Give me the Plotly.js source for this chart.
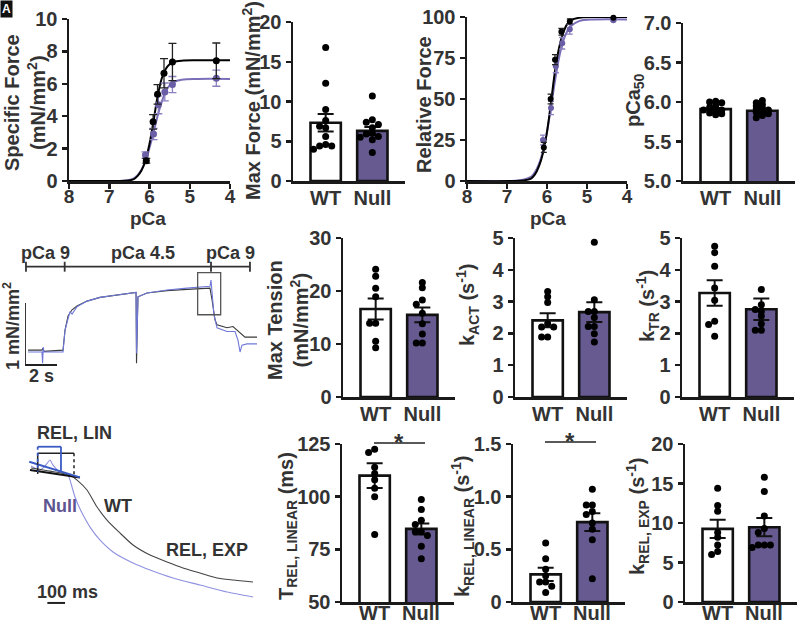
<!DOCTYPE html>
<html><head><meta charset="utf-8">
<script src="https://cdn.plot.ly/plotly-3.0.1.min.js"></script>
<style>html,body{margin:0;padding:0;background:#fff}#chart{width:799px;height:625px}</style>
</head><body><div id="chart"></div>
<script>
// ================= DATA =================
const groups = ['WT', 'Null'];

// Panel A: specific force vs pCa
const pCaWT = [6.08, 5.91, 5.8, 5.64, 5.43, 4.34];
const forceWT = [1.25, 3.65, 5.35, 6.65, 7.35, 7.42];
const forceWTsem = [0.15, 0.45, 0.6, 0.9, 1.15, 1.1];
const pCaNull = [6.1, 5.9, 5.78, 5.62, 5.43, 4.34];
const forceNull = [1.6, 2.9, 4.7, 5.5, 5.95, 6.35];
const forceNullSem = [0.2, 0.35, 0.55, 0.55, 0.5, 0.5];
const fitPCa = [8, 6.8, 6.6, 6.4, 6.3, 6.2, 6.1, 6.0, 5.9, 5.8, 5.7, 5.6, 5.5, 5.4, 5.2, 4.8, 4.0];
const fitForceWT = [0, 0, 0.01, 0.1, 0.3, 0.65, 1.25, 2.3, 3.7, 5.2, 6.3, 6.9, 7.2, 7.35, 7.43, 7.45, 7.45];
const fitForceNull = [0, 0, 0.03, 0.15, 0.35, 0.7, 1.25, 2.05, 3.0, 4.0, 4.85, 5.5, 5.9, 6.1, 6.25, 6.3, 6.3];

// Panel C: relative force vs pCa
const relWT = [20.5, 50, 74, 91, 97.3, 99.6];
const relWTsem = [3, 3, 3, 2, 1.5, 0.3];
const relNull = [25, 44.5, 70, 84, 92.5, 98];
const relNullSem = [3, 4, 4, 3.5, 3, 0.5];
const fitRelWT = [0, 0, 0.3, 1.5, 4, 9, 17, 30, 48, 67, 81, 90, 95.5, 98, 99.5, 100, 100];
const fitRelNull = [0, 0.2, 0.8, 2.5, 5.5, 10.5, 18.5, 30, 45, 61, 75, 85, 91, 94.5, 97.5, 98.5, 98.5];

// Bar panels: individual fibres, bar means and SEM
const maxForceWT = [16.8, 12.3, 9.0, 7.6, 6.9, 6.7, 5.6, 4.6, 4.4, 4.4, 4.0];
const maxForceNull = [10.7, 7.7, 7.4, 7.1, 6.7, 6.0, 5.9, 5.6, 5.5, 5.2, 3.6];
const maxForceMean = [7.32, 6.3], maxForceSem = [1.1, 0.5];

const pCa50WT = [6.01, 6.0, 5.99, 5.96, 5.93, 5.92, 5.9, 5.9, 5.88, 5.86, 5.85, 5.84];
const pCa50Null = [6.02, 5.99, 5.97, 5.95, 5.93, 5.91, 5.9, 5.88, 5.87, 5.85, 5.83, 5.8];
const pCa50Mean = [5.91, 5.89], pCa50Sem = [0.015, 0.02];

const maxTensionWT = [24.1, 22.8, 20.5, 18.9, 13.9, 13.9, 10.5, 9.3];
const maxTensionNull = [21.6, 20.6, 18.3, 17.5, 15.8, 13.8, 11.9, 10.2, 10.2];
const maxTensionMean = [16.6, 15.5], maxTensionSem = [2.0, 1.4];

const kActWT = [3.32, 3.15, 2.97, 2.3, 2.2, 2.2, 1.89, 1.89];
const kActNull = [4.87, 3.06, 2.69, 2.69, 2.5, 2.22, 2.22, 1.99, 1.73];
const kActMean = [2.41, 2.67], kActSem = [0.22, 0.31];

const kTrWT = [4.74, 4.54, 4.11, 3.43, 3.04, 2.38, 2.28, 1.91];
const kTrNull = [3.38, 2.9, 2.75, 2.7, 2.55, 2.3, 2.1, 2.1];
const kTrMean = [3.27, 2.76], kTrSem = [0.4, 0.34];

const tRelWT = [122.5, 121, 114, 111, 108, 104, 100, 82];
const tRelNull = [98.6, 93.9, 88.8, 86.8, 83.3, 83.3, 81.6, 76.5, 70.5];
const tRelMean = [110, 84.7], tRelSem = [5.9, 2.6];

const kRelLinWT = [0.56, 0.41, 0.31, 0.25, 0.19, 0.19, 0.15, 0.09];
const kRelLinNull = [1.07, 0.92, 0.92, 0.86, 0.83, 0.75, 0.69, 0.59, 0.22];
const kRelLinMean = [0.262, 0.758], kRelLinSem = [0.063, 0.085];

const kRelExpWT = [14.4, 12.2, 11.5, 8.8, 8.2, 7.2, 6.4, 6.0];
const kRelExpNull = [15.8, 14.0, 10.9, 9.3, 8.8, 7.2, 7.2, 7.2, 6.9];
const kRelExpMean = [9.26, 9.47], kRelExpSem = [1.15, 1.15];

// Panel E: force trace (time s, force mN/mm^2)
const traceWT_t = [0.19, 1.06, 1.12, 1.19, 2.375, 2.5, 2.69, 2.94, 3.25, 3.875, 4.69, 5.75, 6.94, 6.97, 7.03, 7.06, 7.625, 8.875, 10.125, 11.56, 11.69, 11.875, 12.0, 12.625, 13.0, 13.44, 13.75, 14.5];
const traceWT_F = [0.24, 0.24, 0.27, 0.22, 0.24, 0.56, 0.79, 0.89, 0.95, 1.03, 1.09, 1.13, 1.17, 0.03, 1.05, 1.10, 1.16, 1.20, 1.22, 1.24, 1.05, 0.73, 0.65, 0.60, 0.62, 0.52, 0.45, 0.45];
const traceNull_t = [0.19, 1.06, 1.1, 1.14, 1.19, 2.375, 2.5, 2.69, 2.81, 2.94, 3.25, 3.875, 4.69, 5.75, 6.94, 6.97, 7.03, 7.06, 7.625, 8.875, 10.125, 11.56, 11.625, 11.69, 11.81, 12.0, 12.625, 13.125, 13.31, 13.44, 13.56, 13.875, 14.5];
const traceNull_F = [0.21, 0.21, 0.03, 0.29, 0.21, 0.21, 0.56, 0.76, 0.86, 0.82, 0.94, 1.03, 1.09, 1.13, 1.17, 0.19, 1.05, 1.10, 1.16, 1.21, 1.24, 1.27, 1.37, 1.21, 0.81, 0.60, 0.54, 0.54, 0.40, 0.21, 0.32, 0.34, 0.34];
const solutionChanges = [0.06, 2.48, 11.625, 14.06];
const solutionLabels = ['pCa 9', 'pCa 4.5', 'pCa 9'];

// Panel I: relaxation traces (time ms, normalised force)
const relaxWT_t = [5.6, 113, 226, 266, 322, 379, 435, 508, 582, 678, 774, 864, 960, 1056, 1147, 1260];
const relaxWT_F = [0.943, 0.921, 0.893, 0.857, 0.786, 0.664, 0.571, 0.479, 0.393, 0.321, 0.271, 0.229, 0.193, 0.157, 0.143, 0.129];
const relaxNull_t = [5.6, 56.5, 85, 113, 130, 169.5, 215, 226, 254, 294, 339, 395, 469, 582, 678, 808, 960, 1113, 1260];
const relaxNull_F = [0.957, 0.929, 0.957, 1.0, 0.964, 0.914, 0.893, 0.857, 0.736, 0.621, 0.521, 0.429, 0.343, 0.264, 0.214, 0.157, 0.107, 0.057, 0.021];
const linFitWT_t = [0, 282], linFitWT_F = [0.929, 0.875];
const linFitNull_t = [-4, 282], linFitNull_F = [0.988, 0.876];

// ================= LAYOUT HELPERS =================
const W = 799, H = 625;
const TXT = '#333';
const AX = '#1a1a1a';
const PURPLE = '#675a91';
const PURPLE_LINE = '#7b70b8';
const BLUE = '#3b5bc4';
const FONT = 'Arial, "Liberation Sans", sans-serif';
const tickFont = {family: FONT, size: 20, weight: 'bold', color: TXT};
const titleFont = {family: FONT, size: 20, weight: 'bold', color: TXT};
const XRANGE = [-0.7, 1.7];

const dx = (a, b) => [a / W, b / W];
const dy = (top, bot) => [1 - bot / H, 1 - top / H];
const px = v => v / W, py = v => 1 - v / H;

const layout = {
  width: W, height: H, margin: {l: 0, r: 0, t: 0, b: 0},
  paper_bgcolor: '#fff', plot_bgcolor: 'rgba(0,0,0,0)',
  showlegend: false, font: {family: FONT, color: TXT, weight: 'bold'},
  shapes: [], annotations: []
};
const data = [];

// text placed by its centre in page pixels
function label(text, cx, cy, opts) {
  layout.annotations.push(Object.assign({
    text, x: px(cx), y: py(cy), xref: 'paper', yref: 'paper', xanchor: 'center', yanchor: 'middle',
    showarrow: false, font: titleFont
  }, opts || {}));
}

function baseAxis(extra) {
  return Object.assign({
    showline: true, linecolor: AX, linewidth: 2.5, ticks: 'outside', ticklen: 5,
    tickwidth: 2.5, tickcolor: AX, showgrid: false, zeroline: false,
    tickfont: tickFont, fixedrange: true
  }, extra);
}
function setAxes(n, xpx, ypx, xextra, yextra) {
  const xs = n === 1 ? 'xaxis' : 'xaxis' + n, ys = n === 1 ? 'yaxis' : 'yaxis' + n;
  const xr = n === 1 ? 'x' : 'x' + n, yr = n === 1 ? 'y' : 'y' + n;
  layout[xs] = baseAxis(Object.assign({domain: dx(xpx[0], xpx[1]), anchor: yr}, xextra));
  layout[ys] = baseAxis(Object.assign({domain: dy(ypx[0], ypx[1]), anchor: xr}, yextra));
  return {x: xr, y: yr};
}

// deterministic beeswarm offsets for dots
function swarm(vals, center, thr, step) {
  const placed = [];
  const order = [0, -1, 1, -2, 2, -3, 3];
  return vals.map(v => {
    for (const k of order) {
      if (!placed.some(p => p.k === k && Math.abs(p.v - v) < thr)) {
        placed.push({k, v}); return center + k * step;
      }
    }
    return center;
  });
}

// labelY: when given, category names are drawn as page text at that height
function barPanel(n, xpx, ypx, wt, nul, mean, sem, yextra, thr, labelY) {
  const r = setAxes(n, xpx, ypx,
    {range: XRANGE, tickvals: [0, 1], ticktext: groups, ticks: '', ticklen: 0, ticklabelstandoff: -3,
     showticklabels: labelY === undefined},
    yextra);
  if (labelY !== undefined) {
    [0, 1].forEach(i => {
      const cx = xpx[0] + (i - XRANGE[0]) / (XRANGE[1] - XRANGE[0]) * (xpx[1] - xpx[0]);
      label(groups[i], cx, labelY, {font: tickFont});
    });
  }
  data.push({
    type: 'bar', x: [0, 1], y: mean, xaxis: r.x, yaxis: r.y, width: 0.65,
    marker: {color: ['#ffffff', PURPLE], line: {color: '#111', width: 2.6}},
    error_y: {type: 'data', array: sem, visible: true, color: '#111', thickness: 2, width: 8},
    hoverinfo: 'skip'
  });
  const step = 0.13;
  const xw = swarm(wt, 0, thr, step), xn = swarm(nul, 1, thr, step);
  data.push({
    type: 'scatter', mode: 'markers', x: xw.concat(xn), y: wt.concat(nul),
    xaxis: r.x, yaxis: r.y, cliponaxis: false,
    marker: {color: '#000', size: 7}, hoverinfo: 'skip'
  });
  return r;
}

// ---------- Panel A ----------
const pcaTickFont = {family: FONT, size: 19, weight: 'bold', color: TXT};
setAxes(1, [69, 230], [19, 181],
  {range: [8, 4], dtick: 1, tick0: 4, ticklabelstandoff: -8, tickfont: pcaTickFont},
  {range: [0, 10], dtick: 2});
label('pCa', 148, 218, {font: pcaTickFont});
label('Specific Force<br>(mN/mm<sup>2</sup>)', 25, 103, {textangle: -90});
data.push({x: fitPCa, y: fitForceNull, xaxis: 'x', yaxis: 'y', mode: 'lines', line: {color: PURPLE_LINE, width: 2, shape: 'spline'}, hoverinfo: 'skip'});
data.push({x: fitPCa, y: fitForceWT, xaxis: 'x', yaxis: 'y', mode: 'lines', line: {color: '#000', width: 2, shape: 'spline'}, hoverinfo: 'skip'});
data.push({x: pCaNull, y: forceNull, xaxis: 'x', yaxis: 'y', mode: 'markers', cliponaxis: false,
  marker: {color: '#6a5fa6', size: 7}, error_y: {type: 'data', array: forceNullSem, color: '#8a80c0', thickness: 1.3, width: 4}, hoverinfo: 'skip'});
data.push({x: pCaWT, y: forceWT, xaxis: 'x', yaxis: 'y', mode: 'markers', cliponaxis: false,
  marker: {color: '#000', size: 7}, error_y: {type: 'data', array: forceWTsem, color: '#222', thickness: 1.3, width: 4}, hoverinfo: 'skip'});

// ---------- Panel B ----------
barPanel(2, [293, 405], [22, 181], maxForceWT, maxForceNull, maxForceMean, maxForceSem,
  {range: [0, 20], dtick: 5}, 0.7);
label('Max Force (mN/mm<sup>2</sup>)', 252, 101, {textangle: -90});

// ---------- Panel C ----------
setAxes(3, [467, 627], [17, 181],
  {range: [8, 4], dtick: 1, tick0: 4, ticklabelstandoff: -8, tickfont: pcaTickFont},
  {range: [0, 100], dtick: 25});
label('pCa', 548, 218, {font: pcaTickFont});
label('Relative Force', 424, 105, {textangle: -90});
data.push({x: fitPCa, y: fitRelNull, xaxis: 'x3', yaxis: 'y3', mode: 'lines', line: {color: PURPLE_LINE, width: 2, shape: 'spline'}, hoverinfo: 'skip'});
data.push({x: fitPCa, y: fitRelWT, xaxis: 'x3', yaxis: 'y3', mode: 'lines', line: {color: '#000', width: 2, shape: 'spline'}, hoverinfo: 'skip'});
data.push({x: pCaNull, y: relNull, xaxis: 'x3', yaxis: 'y3', mode: 'markers', cliponaxis: false,
  marker: {color: '#6a5fa6', size: 6}, error_y: {type: 'data', array: relNullSem, color: '#8a80c0', thickness: 1.3, width: 3}, hoverinfo: 'skip'});
data.push({x: pCaWT, y: relWT, xaxis: 'x3', yaxis: 'y3', mode: 'markers', cliponaxis: false,
  marker: {color: '#000', size: 6}, error_y: {type: 'data', array: relWTsem, color: '#222', thickness: 1.3, width: 3}, hoverinfo: 'skip'});

// ---------- Panel D ----------
barPanel(4, [683, 795], [23, 181], pCa50WT, pCa50Null, pCa50Mean, pCa50Sem,
  {range: [5, 7], dtick: 0.5, tickformat: '.1f'}, 0.035);
label('pCa<sub>50</sub>', 634, 100, {textangle: -90});

// ---------- Panel E (force trace) ----------
const hiddenAx = {showline: false, ticks: '', showticklabels: false, showgrid: false, zeroline: false, fixedrange: true};
layout.xaxis5 = Object.assign({domain: dx(25, 260), anchor: 'y5', range: [0, 14.6875]}, hiddenAx);
layout.yaxis5 = Object.assign({domain: dy(240, 380), anchor: 'x5', range: [-0.242, 2.016]}, hiddenAx);
data.push({x: traceWT_t, y: traceWT_F, xaxis: 'x5', yaxis: 'y5', mode: 'lines', line: {color: '#3a3a3a', width: 1.1}, hoverinfo: 'skip', cliponaxis: false});
data.push({x: traceNull_t, y: traceNull_F, xaxis: 'x5', yaxis: 'y5', mode: 'lines', line: {color: '#6f78d8', width: 1.1}, hoverinfo: 'skip', cliponaxis: false});
// solution bracket
const brY = 1.585, brT = 0.08;
data.push({x: [solutionChanges[0], solutionChanges[3]], y: [brY, brY], xaxis: 'x5', yaxis: 'y5', mode: 'lines', line: {color: '#333', width: 1.8}, hoverinfo: 'skip', cliponaxis: false});
solutionChanges.forEach(t => {
  data.push({x: [t, t], y: [brY - brT, brY + brT], xaxis: 'x5', yaxis: 'y5', mode: 'lines', line: {color: '#333', width: 1.8}, hoverinfo: 'skip', cliponaxis: false});
});
const labelCenters = [1.3, 7.375, 12.85];
solutionLabels.forEach((s, i) => layout.annotations.push({
  text: s, x: labelCenters[i], y: 1.81, xref: 'x5', yref: 'y5', showarrow: false,
  font: {family: FONT, size: 18, weight: 'bold', color: TXT}
}));
// zoom box
layout.shapes.push({type: 'rect', xref: 'x5', yref: 'y5', x0: 10.79, x1: 12.23, y0: 0.81, y1: 1.49, line: {color: '#555', width: 1.3}});
// scale bars
data.push({x: [0, 0, 2], y: [1, 0, 0], xaxis: 'x5', yaxis: 'y5', mode: 'lines', line: {color: '#222', width: 1.8}, hoverinfo: 'skip', cliponaxis: false});
layout.annotations.push({text: '2 s', x: 1.05, y: -0.17, xref: 'x5', yref: 'y5', showarrow: false, font: {family: FONT, size: 18, weight: 'bold', color: TXT}});
label('1 mN/mm<sup>2</sup>', 12, 326, {textangle: -90, font: {family: FONT, size: 18, weight: 'bold', color: TXT}});

// ---------- Panel F ----------
barPanel(6, [343, 455], [238, 397], maxTensionWT, maxTensionNull, maxTensionMean, maxTensionSem,
  {range: [0, 30], dtick: 10}, 1.0);
label('Max Tension<br>(mN/mm<sup>2</sup>)', 288, 320, {textangle: -90});
// ---------- Panel G ----------
barPanel(7, [515, 627], [238, 397], kActWT, kActNull, kActMean, kActSem,
  {range: [0, 5], dtick: 1}, 0.15);
label('k<sub>ACT</sub> (s<sup>-1</sup>)', 467, 305, {textangle: -90});
// ---------- Panel H ----------
barPanel(8, [682, 794], [238, 397], kTrWT, kTrNull, kTrMean, kTrSem,
  {range: [0, 5], dtick: 1}, 0.15);
label('k<sub>TR</sub> (s<sup>-1</sup>)', 647, 306, {textangle: -90});

// ---------- Panel I (relaxation) ----------
layout.xaxis9 = Object.assign({domain: dx(25, 258), anchor: 'y9', range: [-28.25, 1288]}, hiddenAx);
layout.yaxis9 = Object.assign({domain: dy(420, 610), anchor: 'x9', range: [-0.0714, 1.286]}, hiddenAx);
data.push({x: relaxNull_t, y: relaxNull_F, xaxis: 'x9', yaxis: 'y9', mode: 'lines', line: {color: '#8f92e0', width: 1.1, shape: 'spline', smoothing: 0.6}, hoverinfo: 'skip', cliponaxis: false});
data.push({x: relaxWT_t, y: relaxWT_F, xaxis: 'x9', yaxis: 'y9', mode: 'lines', line: {color: '#444', width: 1.1, shape: 'spline', smoothing: 0.6}, hoverinfo: 'skip', cliponaxis: false});
data.push({x: linFitWT_t, y: linFitWT_F, xaxis: 'x9', yaxis: 'y9', mode: 'lines', line: {color: '#111', width: 2}, hoverinfo: 'skip', cliponaxis: false});
data.push({x: linFitNull_t, y: linFitNull_F, xaxis: 'x9', yaxis: 'y9', mode: 'lines', line: {color: BLUE, width: 2}, hoverinfo: 'skip', cliponaxis: false});
// measurement windows
layout.shapes.push({type: 'line', xref: 'x9', yref: 'y9', x0: 43.5, x1: 248.6, y0: 1.048, y1: 1.048, line: {color: '#222', width: 1.5}});
layout.shapes.push({type: 'line', xref: 'x9', yref: 'y9', x0: 248.6, x1: 248.6, y0: 1.048, y1: 0.871, line: {color: '#222', width: 1.5, dash: 'dot'}});
layout.shapes.push({type: 'line', xref: 'x9', yref: 'y9', x0: 43.5, x1: 43.5, y0: 1.048, y1: 0.90, line: {color: '#222', width: 1.5}});
layout.shapes.push({type: 'line', xref: 'x9', yref: 'y9', x0: 43.5, x1: 175, y0: 1.095, y1: 1.095, line: {color: BLUE, width: 1.8}});
layout.shapes.push({type: 'line', xref: 'x9', yref: 'y9', x0: 43.5, x1: 43.5, y0: 1.095, y1: 0.916, line: {color: BLUE, width: 1.8, dash: 'dot'}});
layout.shapes.push({type: 'line', xref: 'x9', yref: 'y9', x0: 175, x1: 175, y0: 1.095, y1: 0.916, line: {color: BLUE, width: 1.8}});
// scale bar 100 ms
data.push({x: [98, 198], y: [-0.021, -0.021], xaxis: 'x9', yaxis: 'y9', mode: 'lines', line: {color: '#222', width: 2}, hoverinfo: 'skip', cliponaxis: false});
const lblFont = {family: FONT, size: 18, weight: 'bold', color: TXT};
layout.annotations.push({text: 'REL, LIN', x: 254, y: 1.193, xref: 'x9', yref: 'y9', showarrow: false, font: lblFont});
layout.annotations.push({text: 'Null', x: 169.5, y: 0.671, xref: 'x9', yref: 'y9', showarrow: false, font: Object.assign({}, lblFont, {color: '#5d5490'})});
layout.annotations.push({text: 'WT', x: 497, y: 0.671, xref: 'x9', yref: 'y9', showarrow: false, font: lblFont});
layout.annotations.push({text: 'REL, EXP', x: 1000, y: 0.357, xref: 'x9', yref: 'y9', showarrow: false, font: lblFont});
layout.annotations.push({text: '100 ms', x: 209, y: 0.06, xref: 'x9', yref: 'y9', showarrow: false, font: lblFont});

// ---------- Panel J ----------
barPanel(10, [342, 454], [444, 602], tRelWT, tRelNull, tRelMean, tRelSem,
  {range: [50, 125], dtick: 25}, 2.5, 612.5);
label('T<sub>REL, LINEAR</sub> (ms)', 287, 526, {textangle: -90});
// ---------- Panel K ----------
barPanel(11, [513, 625], [444, 602], kRelLinWT, kRelLinNull, kRelLinMean, kRelLinSem,
  {range: [0, 1.5], tickvals: [0, 0.5, 1, 1.5], ticktext: ['0', '0.5', '1.0', '1.5']}, 0.045, 612.5);
label('k<sub>REL, LINEAR</sub> (s<sup>-1</sup>)', 462, 527, {textangle: -90});
// ---------- Panel L ----------
barPanel(12, [685, 797], [444, 602], kRelExpWT, kRelExpNull, kRelExpMean, kRelExpSem,
  {range: [0, 20], dtick: 5}, 0.6, 612.5);
label('k<sub>REL, EXP</sub> (s<sup>-1</sup>)', 637, 517, {textangle: -90});

// significance markers (page pixels)
[[374, 425, 443, 399], [545, 596, 442, 570]].forEach(s => {
  layout.shapes.push({type: 'line', xref: 'paper', yref: 'paper', x0: px(s[0]), x1: px(s[1]), y0: py(s[2]), y1: py(s[2]), line: {color: '#222', width: 1.5}});
  label('*', s[3], s[2] - 1, {font: {family: FONT, size: 24, weight: 'bold', color: TXT}});
});

// panel letter fragment (top-left)
layout.annotations.push({text: 'A', x: 0, y: 1, xref: 'paper', yref: 'paper', xanchor: 'left', yanchor: 'top', showarrow: false,
  bgcolor: '#111', font: {family: FONT, size: 12, weight: 'bold', color: '#fff'}, borderpad: 1});

Plotly.newPlot('chart', data, layout, {staticPlot: true, displayModeBar: false});
</script>
</body></html>
